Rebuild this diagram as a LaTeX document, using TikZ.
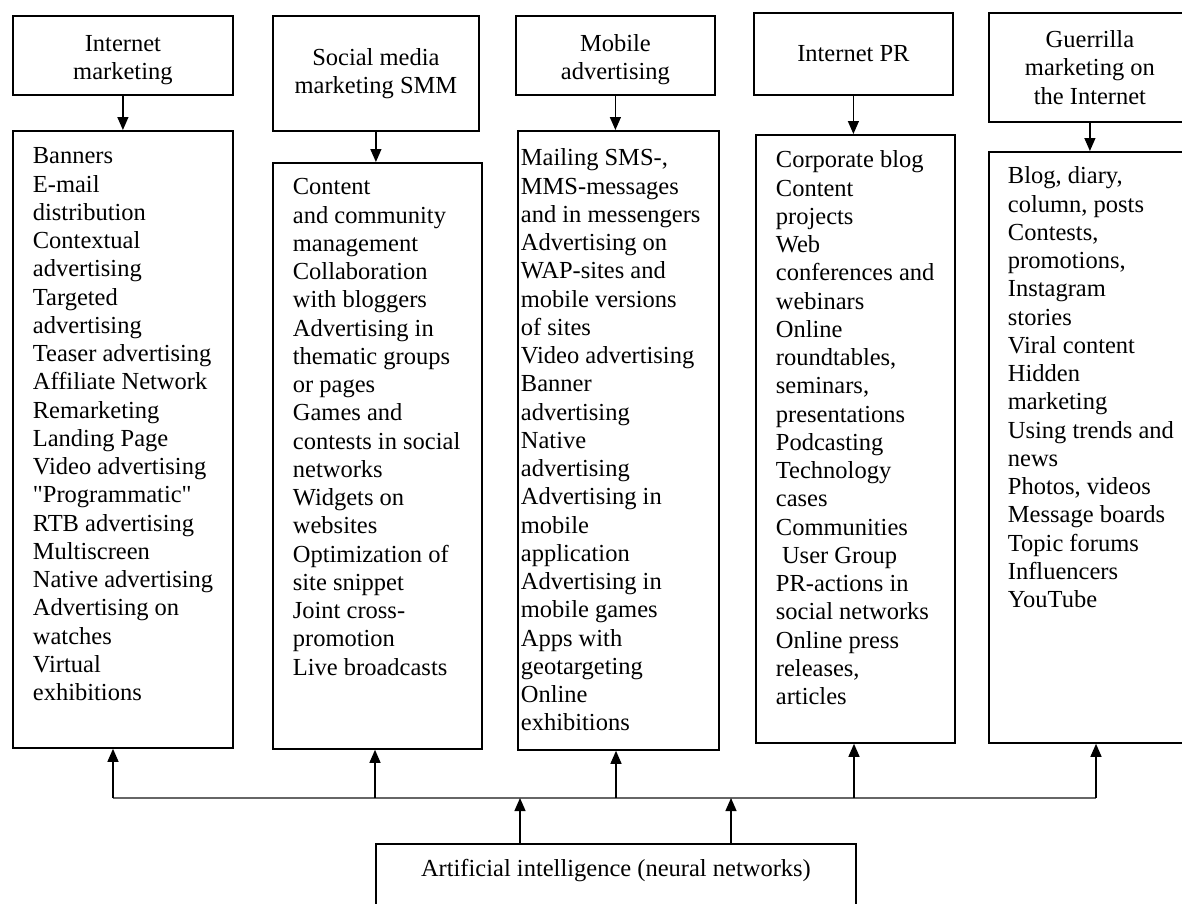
\documentclass[tikz,border=0pt]{standalone}
\usepackage{fontspec}
\setmainfont{Liberation Serif}
\usetikzlibrary{arrows.meta}
\tikzset{headbox/.style = {draw, line width=1.8pt, anchor=north west, inner sep=0pt, align=center},
         listbox/.style = {draw, line width=1.8pt, anchor=north west, inner sep=0pt},
         arr/.style = {-{Triangle[length=13pt,width=11pt]}, line width=1.3pt},
         bus/.style = {line width=1.2pt, black!60}}
\newcommand{\listcol}[3]{\hspace*{#1}\parbox[t]{#2}{\raggedright #3}}

\begin{document}
\begin{tikzpicture}[x=1pt,y=-1pt,font=\fontsize{24.5}{28.25}\selectfont]
        \useasboundingbox (0,0) rectangle (1182,903);
        \clip (0,0) rectangle (1182,903);

        % channel headers
        \node[headbox, minimum width=220pt, minimum height=79pt] (imhead) at (12,15) {\rule{0pt}{25pt}Internet\\marketing};
        \node[headbox, minimum width=206pt, minimum height=115pt] (smmhead) at (272,15) {Social media\\marketing SMM};
        \node[headbox, minimum width=199pt, minimum height=79pt] (mobhead) at (515,15) {\rule{0pt}{25pt}Mobile\\advertising};
        \node[headbox, minimum width=199pt, minimum height=82pt] (prhead) at (753,12) {Internet PR};
        \node[headbox, minimum width=202pt, minimum height=109pt] (guehead) at (988,12) {Guerrilla\\marketing on\\the Internet};

        % tool lists
        \node[listbox, text height=33pt, text depth=584pt] (imlist) at (12,130) {\listcol{20pt}{200pt}{Banners\\E-mail\\distribution\\Contextual\\advertising\\Targeted\\advertising\\Teaser advertising\\Affiliate Network\\Remarketing\\Landing Page\\Video advertising\\\textquotedbl Programmatic\textquotedbl\\RTB advertising\\Multiscreen\\Native advertising\\Advertising on\\watches\\Virtual\\exhibitions}};
        \node[listbox, text height=32pt, text depth=554pt] (smmlist) at (272,162) {\listcol{20pt}{189pt}{Content\\and community\\management\\Collaboration\\with bloggers\\Advertising in\\thematic groups\\or pages\\Games and\\contests in social\\networks\\Widgets on\\websites\\Optimization of\\site snippet\\Joint cross-\\promotion\\Live broadcasts}};
        \node[listbox, text height=35pt, text depth=584pt] (moblist) at (517,130) {\listcol{3pt}{198pt}{Mailing SMS-,\\MMS-messages\\and in messengers\\Advertising on\\WAP-sites and\\mobile versions\\of sites\\Video advertising\\Banner\\advertising\\Native\\advertising\\Advertising in\\mobile\\application\\Advertising in\\mobile games\\Apps with\\geotargeting\\Online\\exhibitions}};
        \node[listbox, text height=33pt, text depth=575pt] (prlist) at (755,134) {\listcol{20pt}{179pt}{Corporate blog\\Content\\projects\\Web\\conferences and\\webinars\\Online\\roundtables,\\seminars,\\presentations\\Podcasting\\Technology\\cases\\Communities\\\hspace*{0.25em}User Group\\PR-actions in\\social networks\\Online press\\releases,\\articles}};
        \node[listbox, text height=32pt, text depth=559pt] (guelist) at (988,151) {\listcol{19pt}{183pt}{Blog, diary,\\column, posts\\Contests,\\promotions,\\Instagram\\stories\\Viral content\\Hidden\\marketing\\Using trends and\\news\\Photos, videos\\Message boards\\Topic forums\\Influencers\\YouTube}};

        \node[headbox, minimum width=480pt, inner ysep=16pt, text height=17pt, text depth=40pt] (ai) at (375,843) {Artificial intelligence (neural networks)};

        \foreach \h/\l in {imhead/imlist, smmhead/smmlist, mobhead/moblist, prhead/prlist, guehead/guelist}
            \draw[arr] (\h.south) -- (\h.south |- \l.north);

        % common bus
        \coordinate (t1) at (113,798);
        \coordinate (t2) at (375,798);
        \coordinate (t3) at (616,798);
        \coordinate (t4) at (854,798);
        \coordinate (t5) at (1096,798);
        \coordinate (a1) at (520,798);
        \coordinate (a2) at (731,798);
        \draw[bus] (t1) -- (t5);

        \foreach \t/\l in {t1/imlist, t2/smmlist, t3/moblist, t4/prlist, t5/guelist}
            \draw[arr] (\t) -- (\t |- \l.south);
        \draw[arr] (a1 |- ai.north) -- (a1);
        \draw[arr] (a2 |- ai.north) -- (a2);
\end{tikzpicture}
\end{document}
